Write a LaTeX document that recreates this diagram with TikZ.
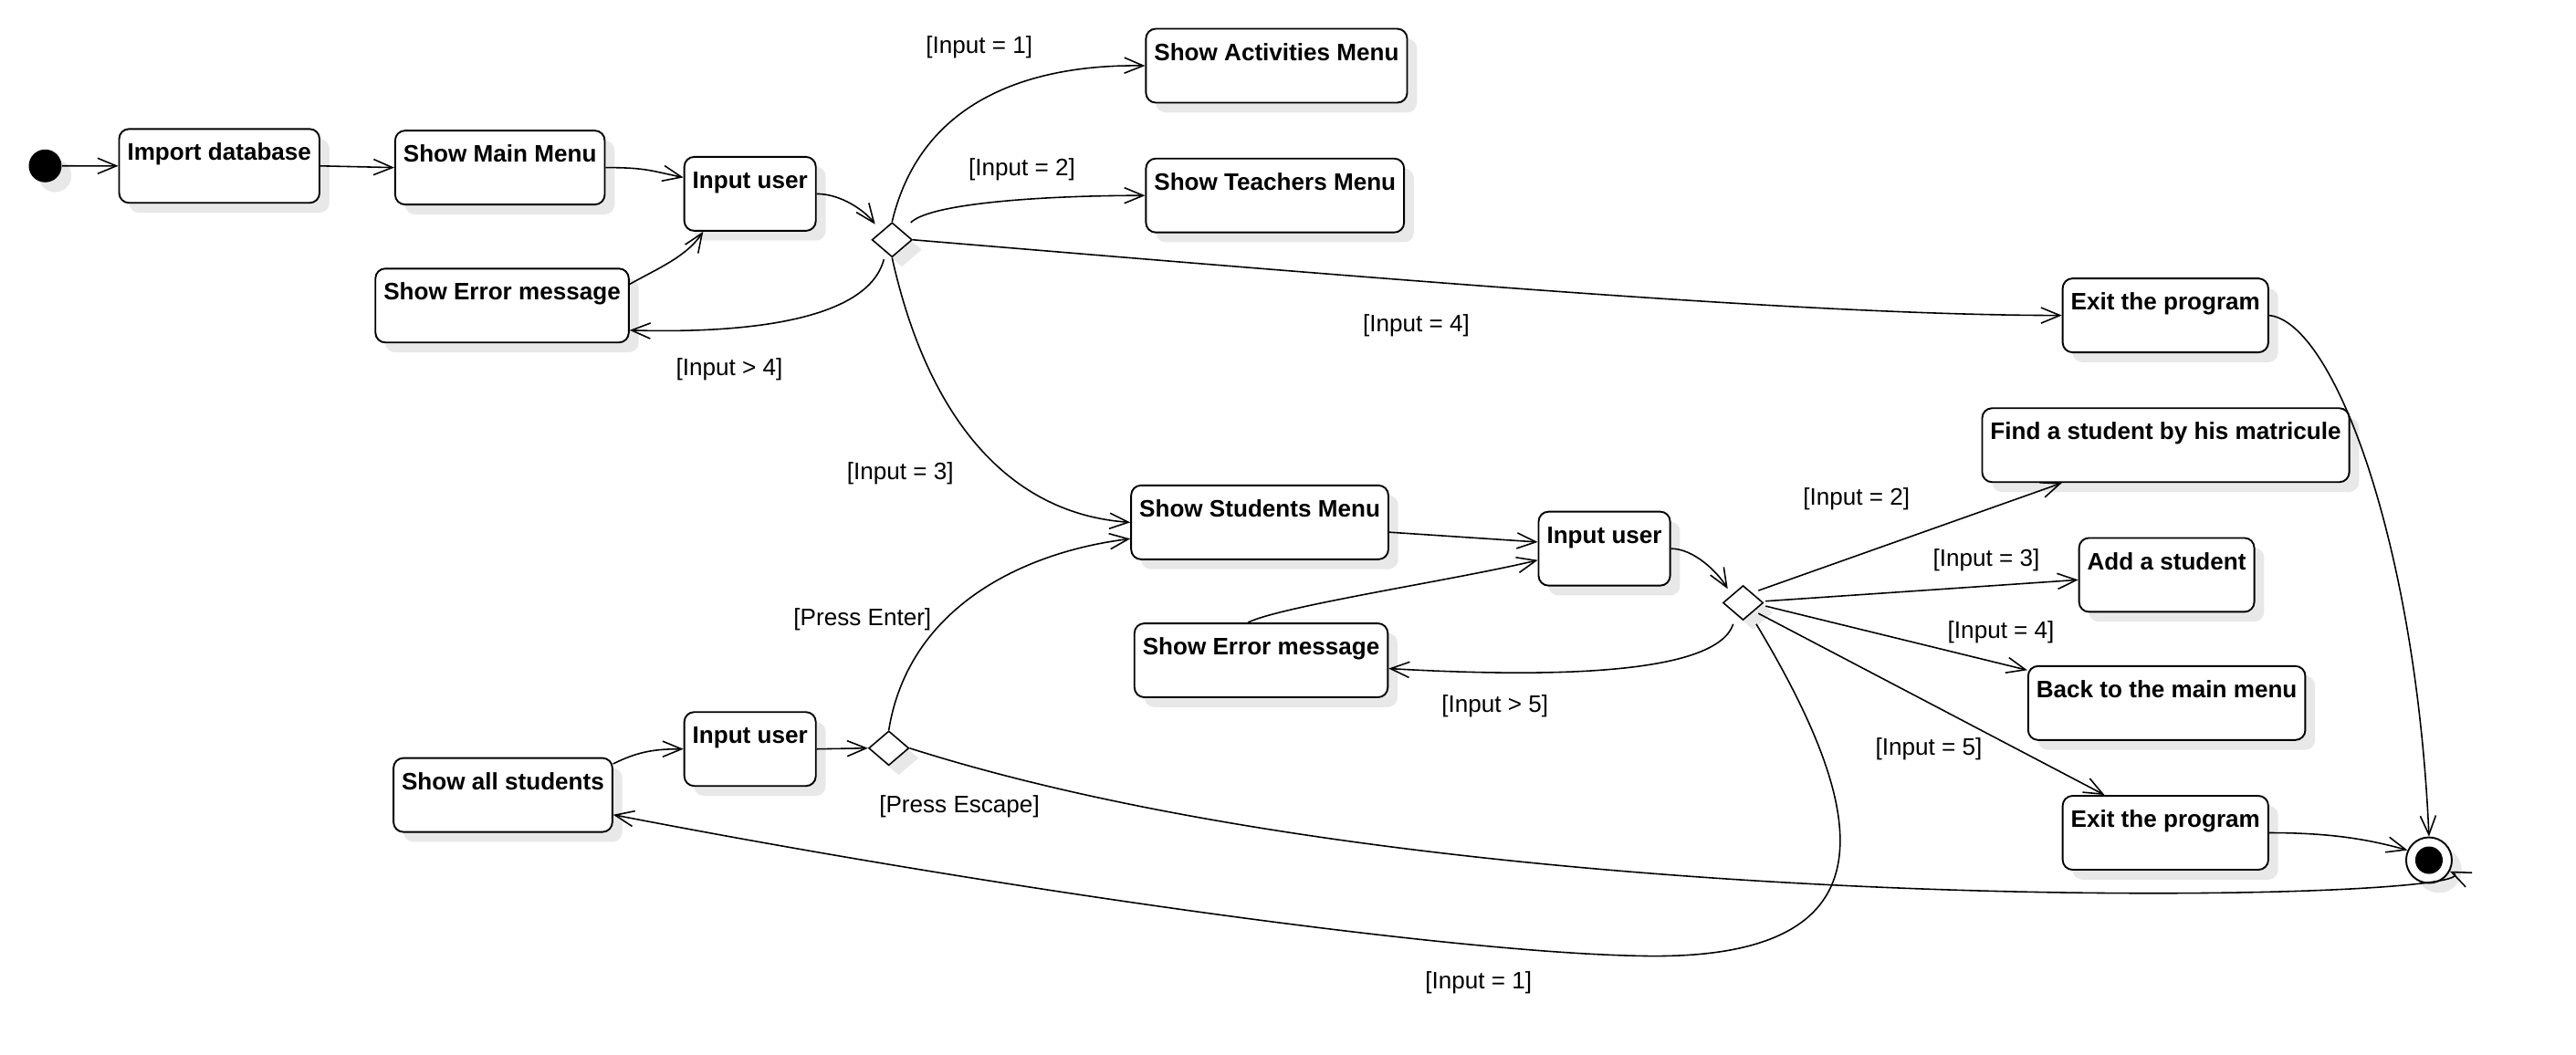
\documentclass[tikz,border=0pt]{standalone}
\usepackage{fontspec}
\setmainfont{Liberation Sans}
\usetikzlibrary{shapes.geometric,arrows.meta,shadows,calc}

\begin{document}
\begin{tikzpicture}[x=0.02cm,y=-0.02cm,
    shadowed/.style={drop shadow={shadow xshift=0.12cm,shadow yshift=-0.12cm,fill=black!9,opacity=1}},
    act/.style={draw,line width=0.6pt,rounded corners=0.12cm,fill=white,shadowed,
      font=\bfseries\fontsize{8.25}{10}\selectfont,inner xsep=0.1cm,inner ysep=0pt,
      text height=0.385cm,text depth=0.515cm,anchor=north west},
    dec/.style={diamond,draw,line width=0.5pt,fill=white,shadowed,inner sep=0pt,
      minimum width=0.49cm,minimum height=0.42cm},
    startnode/.style={circle,fill=black,inner sep=0pt,minimum size=0.4cm,shadowed},
    stopnode/.style={circle,draw,line width=0.6pt,fill=white,inner sep=0pt,minimum size=0.556cm,shadowed,
      path picture={\fill[black] (path picture bounding box.center) circle (0.167cm);}},
    guard/.style={font=\fontsize{8.25}{10}\selectfont,inner sep=0pt},
    tr/.style={line width=0.5pt,-{Straight Barb[length=0.23cm,width=0.19cm]}}]
  \useasboundingbox (0,0) rectangle (1568,642);
  % main menu
  \node[startnode] (start) at (27.5,101) {};
  \node[act] (imp) at (72,78) {Import database};
  \node[act] (smm) at (240,79) {Show Main Menu};
  \node[act] (inp1) at (416,95) {Input user};
  \node[act] (err1) at (228,163) {Show Error message};
  \node[dec] (dec1) at (543,146) {};
  \node[act] (actm) at (697,17) {Show Activities Menu};
  \node[act] (tchm) at (697,96) {Show Teachers Menu};
  \node[act] (ext1) at (1255,169) {Exit the program};
  % students menu
  \node[act] (stum) at (688,295) {Show Students Menu};
  \node[act] (inp2) at (936,311) {Input user};
  \node[act] (err2) at (690,379) {Show Error message};
  \node[dec] (dec2) at (1061,367) {};
  \node[act] (find) at (1206,248) {Find a student by his matricule};
  \node[act] (add) at (1265,327) {Add a student};
  \node[act] (back) at (1234,405) {Back to the main menu};
  \node[act] (ext2) at (1255,484) {Exit the program};
  \node[stopnode] (stop) at (1478.5,523.7) {};
  \node[act] (all) at (239,461) {Show all students};
  \node[act] (inp3) at (416,433) {Input user};
  \node[dec] (dec3) at (541,455.5) {};

  \draw[tr] (start) -- (imp.west);
  \draw[tr] (imp.east) -- (smm.west);
  \draw[tr] (smm.east) .. controls +(25,0) and +(-20,-4) .. ($(inp1.west)+(0,-10)$);
  \draw[tr] ($(err1.east)+(0,-13)$) .. controls +(18,-10) and +(-10,15) .. ($(inp1.south west)+(12,0)$);
  \draw[tr] (inp1.east) .. controls +(15,0) and +(-6,-8) .. ($(dec1.north west)+(-4,-4)$);
  \draw[tr] (dec1.north) .. controls +(18,-76) and +(-67,-1) .. (actm.west);
  \draw[tr] ($(dec1.north east)+(5,-5)$) .. controls +(12,-12) and +(-60,0) .. (tchm.west);
  \draw[tr] (dec1.east) .. controls +(300,25) and +(-150,0) .. (ext1.west);
  \draw[tr] ($(dec1.south)+(-5,1)$) .. controls +(-10,38) and +(68,2) .. ($(err1.south east)+(0,-8)$);
  \draw[tr] (dec1.south) .. controls +(22,99) and +(-73,-5) .. (stum.west);
  \draw[tr] (ext1.east) .. controls +(39,4) and +(-8,-180) .. (stop.north);

  \draw[tr] ($(stum.east)+(0,6)$) -- ($(inp2.west)+(0,-4)$);
  \draw[tr] ($(err2.north)+(-8,0)$) .. controls +(20,-10) and +(-50,12) .. ($(inp2.west)+(0,7)$);
  \draw[tr] (inp2.east) .. controls +(14,0) and +(-6,-10) .. ($(dec2.north west)+(-3,-3)$);
  \draw[tr] ($(dec2.north east)+(3,-2)$) -- ($(find.south west)+(49,0)$);
  \draw[tr] ($(dec2.east)+(1,-1)$) -- ($(add.west)+(0,3)$);
  \draw[tr] ($(dec2.east)+(1,2)$) -- ($(back.north west)+(0,3)$);
  \draw[tr] ($(dec2.south east)+(3,1)$) -- ($(ext2.north west)+(26,0)$);
  \draw[tr] ($(dec2.south)+(-6,2)$) .. controls +(-10,30) and +(105,6) .. ($(err2.east)+(0,5)$);
  \draw[tr] ($(dec2.south)+(8,2)$) .. controls (1135,490) and (1160,585) .. (1000,582)
    .. controls (880,580) and (600,540) .. ($(all.east)+(0,12)$);
  \draw[tr] (ext2.east) .. controls +(40,0) and +(-22,-6) .. (stop.155);

  \draw[tr] ($(all.east)+(0,-19)$) .. controls +(16,-8) and +(-16,0) .. (inp3.west);
  \draw[tr] (inp3.east) -- (dec3.west);
  \draw[tr] (dec3.north) .. controls +(12,-75) and +(-65,8) .. ($(stum.west)+(0,10)$);
  \draw[tr] (dec3.east) .. controls +(345,110) and +(40,18) .. (stop.-28);

  % guards
  \node[guard] (g1a) at (596,29) {[Input = 1]};
  \node[guard] (g1b) at (622,103) {[Input = 2]};
  \node[guard] (g1c) at (444,225) {[Input > 4]};
  \node[guard] (g1d) at (862,198) {[Input = 4]};
  \node[guard] (g1e) at (548,288) {[Input = 3]};
  \node[guard] (g2a) at (1130,304) {[Input = 2]};
  \node[guard] (g2b) at (1209,341) {[Input = 3]};
  \node[guard] (g2c) at (1218,385) {[Input = 4]};
  \node[guard] (g2d) at (910,430) {[Input > 5]};
  \node[guard] (g2e) at (1174,456) {[Input = 5]};
  \node[guard] (g2f) at (900,598) {[Input = 1]};
  \node[guard] (g3a) at (525,377) {[Press Enter]};
  \node[guard] (g3b) at (584,491) {[Press Escape]};
\end{tikzpicture}
\end{document}
